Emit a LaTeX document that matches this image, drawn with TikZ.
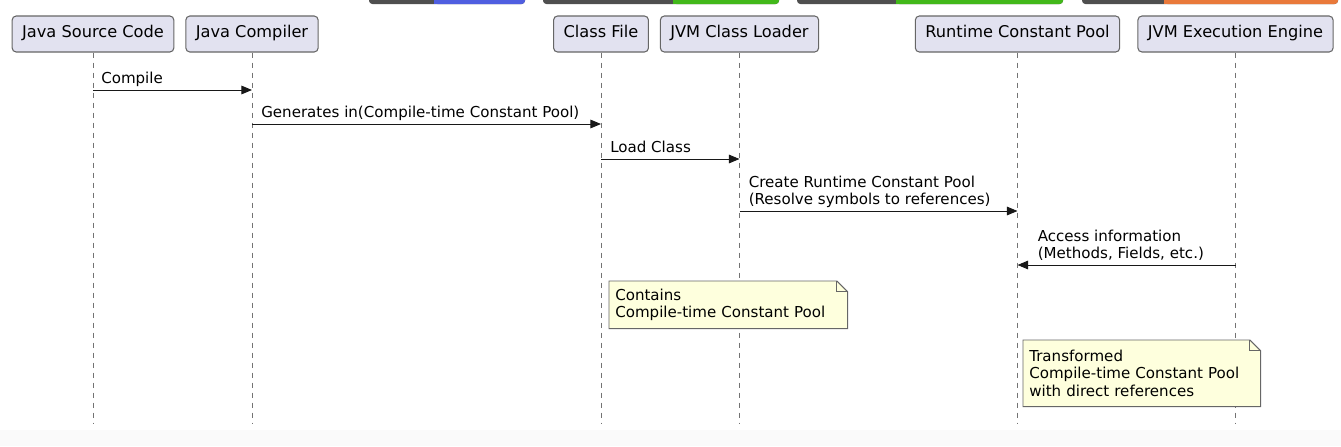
\documentclass[tikz,border=0pt]{standalone}
\usepackage{fontspec}
\setmainfont{DejaVu Sans}
\usetikzlibrary{arrows.meta}
\definecolor{partfill}{HTML}{E2E2F0}
\definecolor{notefill}{HTML}{FEFFDD}
\definecolor{linedark}{HTML}{181818}
\definecolor{badgedark}{HTML}{4F4F4F}
\definecolor{badgeblue}{HTML}{4F5EE0}
\definecolor{badgegreen}{HTML}{42B81A}
\definecolor{badgeorange}{HTML}{E9793A}
\definecolor{footstrip}{HTML}{FAFAFA}

\begin{document}
\begin{tikzpicture}[
    x=0.75pt, y=-0.75pt, % one unit is one pixel, y runs down
    participant/.style={rectangle, rounded corners=3pt, draw=black!60, line width=0.8pt, fill=partfill, minimum height=27pt, inner xsep=7.5pt, text height=0.76em, text depth=0.24em, font=\fontsize{12.15}{14}\selectfont}, % boxes on top
    lifeline/.style={draw=black!55, line width=0.6pt, dash pattern=on 3.75pt off 3.75pt}, % dashed life lines
    msg/.style={draw=linedark, line width=0.75pt, -{Triangle[length=8pt, width=6.5pt]}}, % message arrows
    msglabel/.style={anchor=south west, inner sep=0pt, align=left, font=\fontsize{11.3}{13.1}\selectfont}, % message texts
    note/.style={anchor=north west, fill=notefill, inner xsep=4.5pt, inner ysep=0pt, align=left, font=\fontsize{11.3}{13.1}\selectfont}, % note texts
    noteline/.style={draw=black!60, line width=0.7pt} % note outlines
  ]
  \useasboundingbox (0,0) rectangle (1341,446);
  \fill[footstrip] (0,430) rectangle (1341,446);

  % badges cut off at the top
  \foreach \xa/\xs/\xb/\col in {369/434/525/badgeblue, 543/673/779/badgegreen, 797/896/1063/badgegreen, 1082/1164/1338/badgeorange} {
    \fill[badgedark, rounded corners=2.5pt] (\xa,-10) rectangle (\xb,4);
    \fill[\col, rounded corners=2.5pt] (\xs,-10) rectangle (\xb,4);
    \fill[\col] (\xs,-10) rectangle (\xs+6,4);
  }

  % participants
  \node[participant] (jsc) at (93,34) {Java Source Code};
  \node[participant] (jc) at (252,34) {Java Compiler};
  \node[participant] (cf) at (601,34) {Class File};
  \node[participant] (jcl) at (739.5,34) {JVM Class Loader};
  \node[participant] (rcp) at (1017.5,34) {Runtime Constant Pool};
  \node[participant] (jee) at (1235.5,34) {JVM Execution Engine};

  \coordinate (bottom) at (0,423);
  \foreach \p in {jsc,jc,cf,jcl,rcp,jee}
    \draw[lifeline] (\p.south) -- (\p.south |- bottom);

  % messages
  \coordinate (m1) at (0,90);
  \coordinate (m2) at (0,124);
  \coordinate (m3) at (0,159);
  \coordinate (m4) at (0,211);
  \coordinate (m5) at (0,265);

  \draw[msg] (jsc |- m1) -- (jc |- m1);
  \node[msglabel] (l1) at ([xshift=6pt, yshift=0.75pt]jsc |- m1) {Compile\strut};
  \draw[msg] (jc |- m2) -- (cf |- m2);
  \node[msglabel] (l2) at ([xshift=6.75pt, yshift=0.75pt]jc |- m2) {Generates in(Compile-time Constant Pool)\strut};
  \draw[msg] (cf |- m3) -- (jcl |- m3);
  \node[msglabel] (l3) at ([xshift=6.75pt, yshift=0.75pt]cf |- m3) {Load Class\strut};
  \draw[msg] (jcl |- m4) -- (rcp |- m4);
  \node[msglabel] (l4) at ([xshift=6.75pt, yshift=0.75pt]jcl |- m4) {Create Runtime Constant Pool\\(Resolve symbols to references)\strut};
  \draw[msg] (jee |- m5) -- (rcp |- m5);
  \node[msglabel] (l5) at ([xshift=15pt, yshift=0.75pt]rcp |- m5) {Access information\\(Methods, Fields, etc.)\strut};

  % notes
  \node[note, text width=169.5pt, minimum height=35.25pt] (n1) at (609,281) {Contains\\Compile-time Constant Pool};
  \node[note, text width=168.75pt, minimum height=49.5pt] (n2) at (1023,340) {Transformed\\Compile-time Constant Pool\\with direct references};
  \foreach \n in {n1,n2} {
    \fill[white] ([xshift=-8pt]\n.north east) -- (\n.north east) -- ([yshift=-8pt]\n.north east) -- cycle;
    \draw[noteline] (\n.south west) -- (\n.north west) -- ([xshift=-8pt]\n.north east) -- ([yshift=-8pt]\n.north east) -- (\n.south east) -- cycle;
    \draw[noteline] ([xshift=-8pt]\n.north east) |- ([yshift=-8pt]\n.north east);
  }
\end{tikzpicture}
\end{document}
